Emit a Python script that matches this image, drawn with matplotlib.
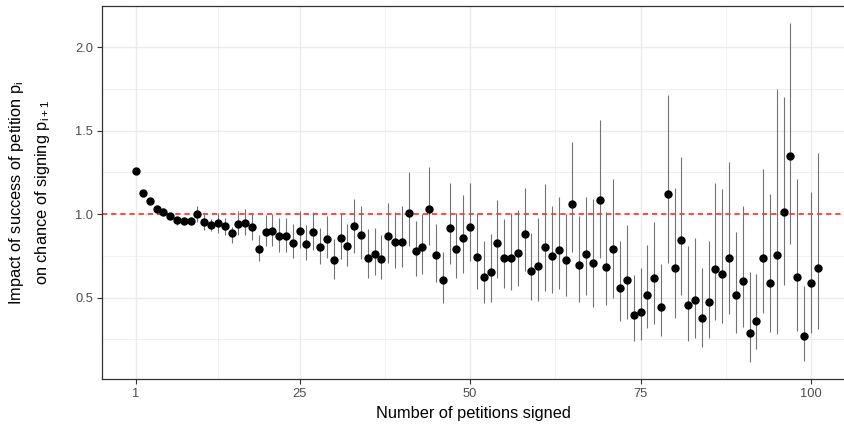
"""
plot.py
Estimated impact of petition success on the chance of signing the next one.
"""

import numpy as np
import matplotlib
matplotlib.use("Agg")
import matplotlib.pyplot as plt
from matplotlib.ticker import FixedLocator

plt.rcParams['font.family'] = ['Liberation Sans', 'DejaVu Sans']
plt.rcParams['mathtext.fontset'] = 'custom'
plt.rcParams['mathtext.rm'] = 'Liberation Sans'
plt.rcParams['mathtext.it'] = 'Liberation Sans'

# ==========================================
# Data
# ==========================================
n_signed = list(range(1, 102))

estimate = [
    1.258, 1.13, 1.08, 1.03, 1.016, 0.99, 0.964, 0.962, 0.962, 1.0,
    0.956, 0.938, 0.946, 0.928, 0.888, 0.944, 0.948, 0.925, 0.794, 0.896,
    0.90, 0.87, 0.87, 0.83, 0.902, 0.822, 0.892, 0.806, 0.854, 0.724,
    0.858, 0.81, 0.93, 0.877, 0.739, 0.762, 0.73, 0.868, 0.834, 0.832,
    1.01, 0.78, 0.806, 1.03, 0.754, 0.604, 0.916, 0.79, 0.858, 0.926,
    0.746, 0.625, 0.654, 0.826, 0.74, 0.74, 0.77, 0.88, 0.66, 0.69,
    0.806, 0.75, 0.786, 0.724, 1.064, 0.694, 0.764, 0.71, 1.086, 0.686,
    0.79, 0.556, 0.604, 0.396, 0.416, 0.516, 0.616, 0.444, 1.124, 0.676,
    0.844, 0.454, 0.486, 0.38, 0.476, 0.674, 0.644, 0.74, 0.516, 0.60,
    0.286, 0.36, 0.74, 0.59, 0.756, 1.016, 1.346, 0.626, 0.272, 0.59,
    0.68,
]

ci_low = [
    1.25, 1.12, 1.07, 1.015, 1.0, 0.97, 0.934, 0.94, 0.935, 0.954,
    0.906, 0.90, 0.89, 0.874, 0.826, 0.874, 0.874, 0.846, 0.72, 0.81,
    0.81, 0.776, 0.776, 0.736, 0.796, 0.726, 0.786, 0.70, 0.74, 0.614,
    0.73, 0.69, 0.77, 0.732, 0.62, 0.634, 0.61, 0.706, 0.68, 0.684,
    0.81, 0.63, 0.64, 0.816, 0.594, 0.47, 0.704, 0.616, 0.65, 0.72,
    0.55, 0.466, 0.476, 0.616, 0.556, 0.544, 0.57, 0.66, 0.486, 0.482,
    0.54, 0.53, 0.55, 0.51, 0.776, 0.476, 0.516, 0.446, 0.74, 0.454,
    0.50, 0.36, 0.374, 0.24, 0.246, 0.316, 0.34, 0.27, 0.71, 0.38,
    0.516, 0.24, 0.26, 0.206, 0.26, 0.366, 0.346, 0.40, 0.29, 0.326,
    0.114, 0.194, 0.406, 0.294, 0.28, 0.574, 0.82, 0.30, 0.12, 0.29,
    0.31,
]

ci_high = [
    1.266, 1.14, 1.09, 1.045, 1.035, 1.01, 0.984, 0.98, 0.985, 1.05,
    1.01, 0.97, 1.01, 0.976, 0.926, 1.02, 1.03, 1.01, 0.874, 0.996,
    1.0, 0.976, 0.976, 0.94, 1.02, 0.934, 1.014, 0.92, 0.99, 0.85,
    1.0, 0.94, 1.094, 1.048, 0.91, 0.916, 0.874, 1.066, 1.016, 1.05,
    1.254, 0.96, 1.0, 1.284, 0.944, 0.776, 1.186, 1.01, 1.114, 1.184,
    1.006, 0.84, 0.88, 1.086, 0.974, 1.006, 1.026, 1.156, 0.886, 0.976,
    1.18, 1.05, 1.104, 1.0, 1.43, 0.99, 1.104, 1.09, 1.566, 1.014,
    1.21, 0.838, 0.934, 0.634, 0.68, 0.814, 0.956, 0.70, 1.714, 1.156,
    1.344, 0.81, 0.86, 0.68, 0.84, 1.184, 1.15, 1.31, 0.894, 1.05,
    0.654, 0.64, 1.27, 1.124, 1.75, 1.70, 2.146, 1.21, 0.57, 1.134,
    1.366,
]

x_breaks = [1, 25, 50, 75, 100]
x_minor = [13, 37.5, 62.5, 87.5]
y_breaks = [0.5, 1.0, 1.5, 2.0]
y_minor = [0.25, 0.75, 1.25, 1.75, 2.25]

# ==========================================
# Plot
# ==========================================
fig = plt.figure(figsize=(8.45, 4.25), dpi=100)
ax = fig.add_axes([102 / 845, 46 / 425, 743 / 845, 373 / 425])

grid_col = '#ebebeb'
for gx in x_minor:
    ax.axvline(gx, color=grid_col, lw=0.5, zorder=0)
for gy in y_minor:
    ax.axhline(gy, color=grid_col, lw=0.5, zorder=0)
for gx in x_breaks:
    ax.axvline(gx, color=grid_col, lw=1.0, zorder=0)
for gy in y_breaks:
    ax.axhline(gy, color=grid_col, lw=1.0, zorder=0)

# reference line at 1
ax.axhline(1.0, color='#ff1a1a', lw=1.1, dashes=(3.4, 2.6), zorder=1)

# confidence intervals and estimates
ax.vlines(n_signed, ci_low, ci_high, color='#737373', lw=0.8, zorder=2)
ax.plot(n_signed, estimate, 'o', color='black', markersize=5, zorder=3)

ax.set_xlim(-4, 105.0)
ax.set_ylim(0.012, 2.248)
ax.xaxis.set_major_locator(FixedLocator(x_breaks))
ax.yaxis.set_major_locator(FixedLocator(y_breaks))
ax.set_xticklabels([str(v) for v in x_breaks])
ax.set_yticklabels([f"{v:.1f}" for v in y_breaks])

ax.tick_params(axis='both', length=3.5, width=0.8, color='#333333',
               labelcolor='#4d4d4d', labelsize=9.3, pad=3)
for side in ['left', 'bottom', 'top', 'right']:
    ax.spines[side].set_color('#333333')
    ax.spines[side].set_linewidth(0.9)

ax.set_xlabel("Number of petitions signed", fontsize=11.8, color='black',
              labelpad=4)

# two-line y axis title
fig.text(17 / 845, 0.547, r"Impact of success of petition $\mathregular{p_i}$",
         rotation=90, ha='center', va='center', fontsize=11.8)
fig.text(43 / 845, 0.547, r"on chance of signing $\mathregular{p_{i+1}}$",
         rotation=90, ha='center', va='center', fontsize=11.8)

fig.savefig("out.png", dpi=100)
